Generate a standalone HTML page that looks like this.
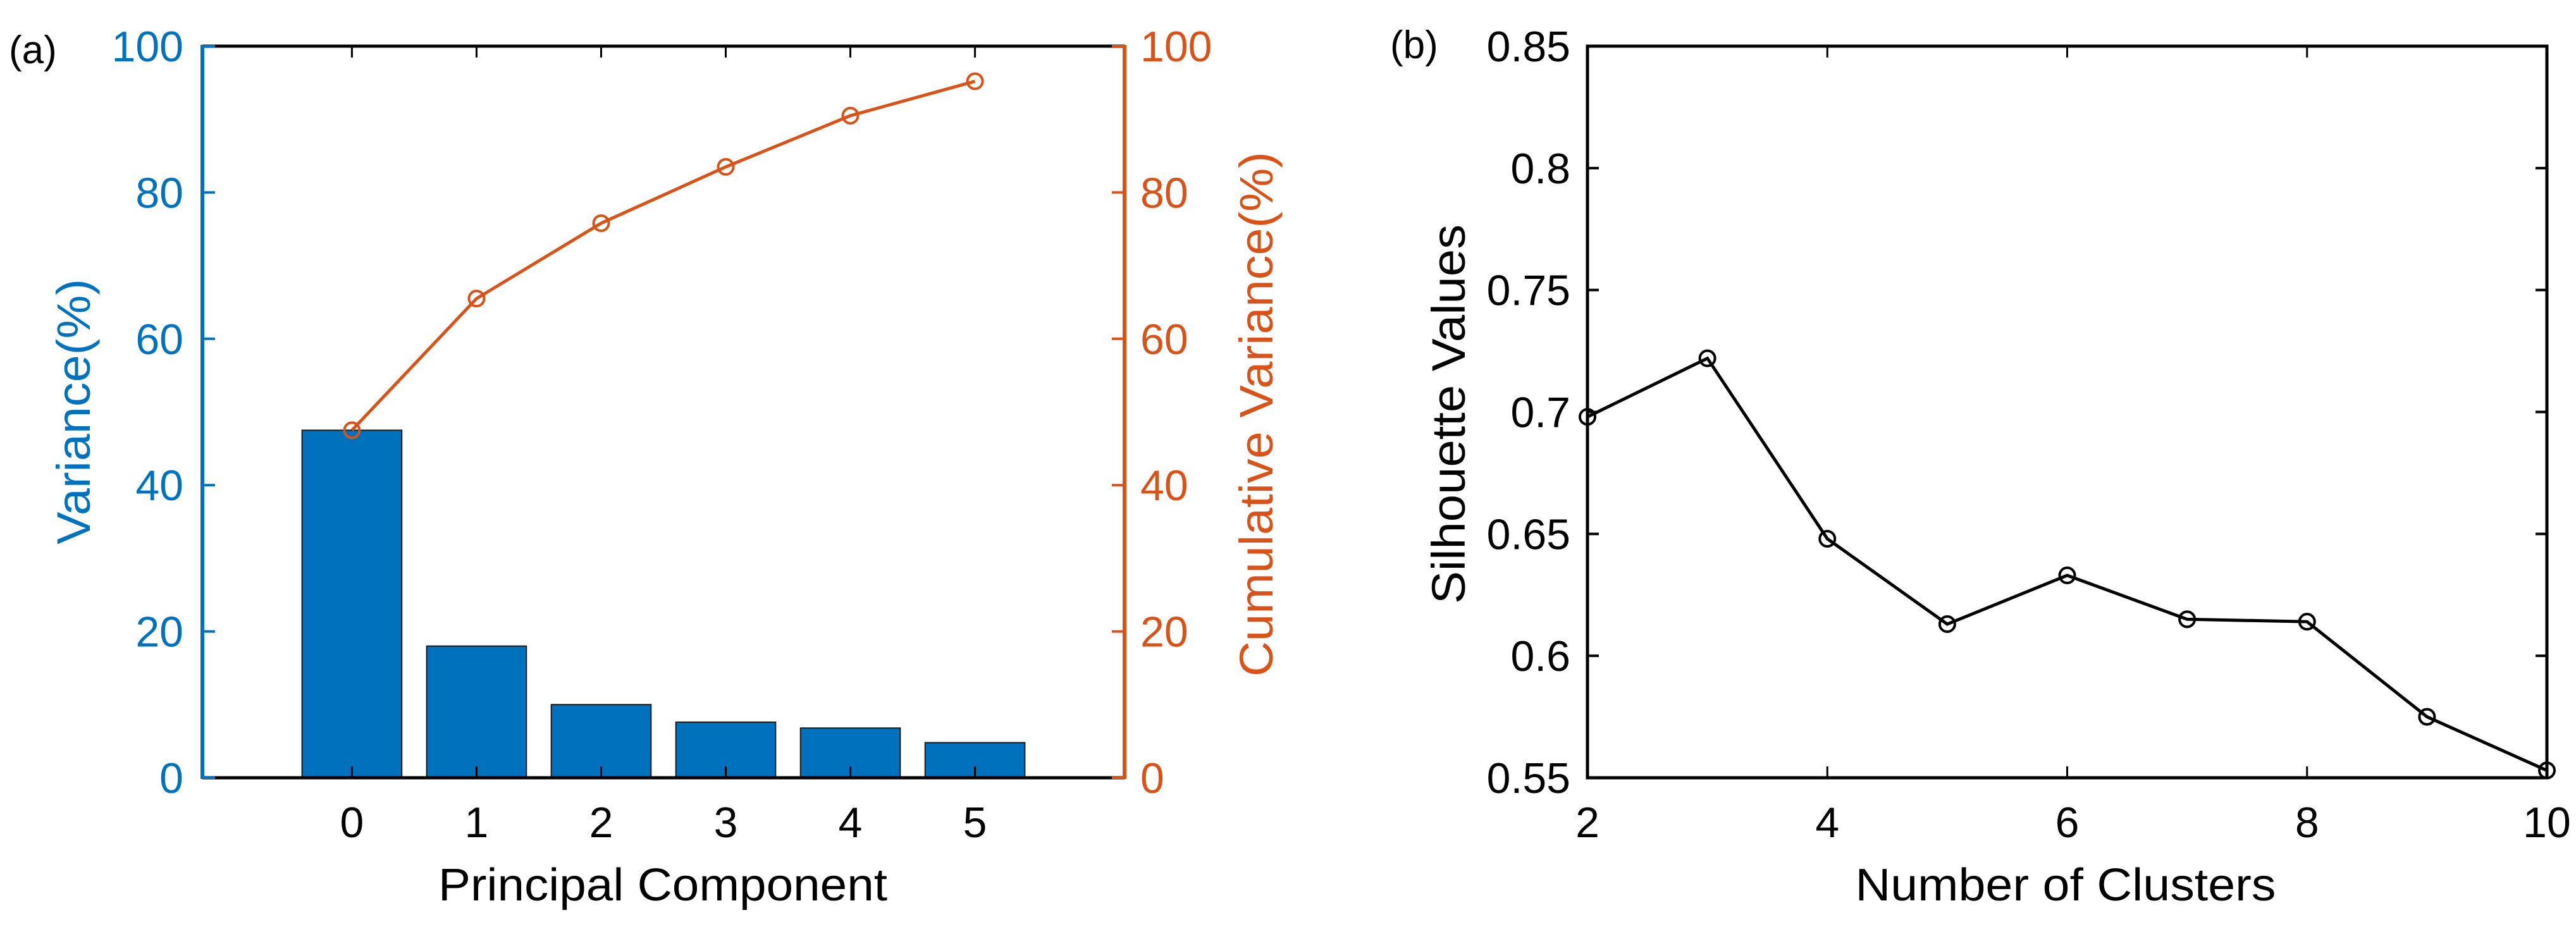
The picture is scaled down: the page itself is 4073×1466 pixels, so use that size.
<!DOCTYPE html>
<html><head><meta charset="utf-8"><style>
html,body{margin:0;padding:0;background:#fff;}
svg{display:block;font-family:"Liberation Sans",Arial,sans-serif;}
</style></head><body>
<svg id="fig" width="4073" height="1466" viewBox="0 0 4073 1466" xmlns="http://www.w3.org/2000/svg">
<rect width="4073" height="1466" fill="#fff"/>
<g id="pa"></g>
<g id="pb"></g>
</svg>
<script>
// Panel (a) data
const pcCategories = [0, 1, 2, 3, 4, 5];
const varianceValues = [47.5, 18.0, 10.0, 7.6, 6.8, 4.8];
const cumulativeValues = [47.5, 65.5, 75.8, 83.5, 90.5, 95.2];
const leftTicks = [0, 20, 40, 60, 80, 100];
const rightTicks = [0, 20, 40, 60, 80, 100];
// Panel (b) data
const clusterCounts = [2, 3, 4, 5, 6, 7, 8, 9, 10];
const silhouetteValues = [0.698, 0.722, 0.648, 0.613, 0.633, 0.615, 0.614, 0.575, 0.553];
const bXTicks = [2, 4, 6, 8, 10];
const bYTicks = [0.55, 0.6, 0.65, 0.7, 0.75, 0.8, 0.85];
const bYTickLabels = ["0.55", "0.6", "0.65", "0.7", "0.75", "0.8", "0.85"];

const NS = "http://www.w3.org/2000/svg";
function mk(parent, tag, attrs, text) {
  const e = document.createElementNS(NS, tag);
  for (const k in attrs) e.setAttribute(k, attrs[k]);
  if (text !== undefined) e.textContent = text;
  parent.appendChild(e);
  return e;
}
const BLUE = "#0072BD", ORANGE = "#D95319";
const FS = 68;

// ---------- Panel A ----------
const pa = document.getElementById("pa");
const aL = 320, aR = 1778, aT = 73, aB = 1230;
const axMin = -1.2, axMax = 6.2;
const ax = v => aL + (v - axMin) / (axMax - axMin) * (aR - aL);
const ay = v => aB - v / 100 * (aB - aT);

let t = mk(pa, "text", {x: 14, y: 100, "font-size": 62, fill: "#000"}, "(a)");



// bars
pcCategories.forEach((c, i) => {
  const r = mk(pa, "rect", {x: ax(c - 0.4), y: ay(varianceValues[i]), width: ax(c + 0.4) - ax(c - 0.4), height: ay(0) - ay(varianceValues[i]), fill: BLUE, stroke: "#1a1a1a", "stroke-width": 2});
  
  
});
// top & bottom box
let ln = mk(pa, "line", {x1: aL, y1: aT, x2: aR, y2: aT, stroke: "#000", "stroke-width": 5});


ln = mk(pa, "line", {x1: aL, y1: aB, x2: aR, y2: aB, stroke: "#000", "stroke-width": 5});


// x ticks
pcCategories.forEach(c => {
  const x = ax(c);
  const a1 = mk(pa, "line", {x1: x, y1: aB, x2: x, y2: aB - 18, stroke: "#000", "stroke-width": 3});
  
  
  const a2 = mk(pa, "line", {x1: x, y1: aT, x2: x, y2: aT + 18, stroke: "#000", "stroke-width": 3});
  
  
  const tl = mk(pa, "text", {x: x, y: 1324, "font-size": FS, "text-anchor": "middle", fill: "#000"}, String(c));
  
  
});
t = mk(pa, "text", {x: 1048, y: 1424, "font-size": 72, "text-anchor": "middle", fill: "#000", textLength: 710, lengthAdjust: "spacingAndGlyphs"}, "Principal Component");


// left axis
ln = mk(pa, "line", {x1: aL, y1: aT - 2, x2: aL, y2: aB + 2, stroke: BLUE, "stroke-width": 6});


leftTicks.forEach(v => {
  const y = ay(v);
  const tk = mk(pa, "line", {x1: aL, y1: y, x2: aL + 20, y2: y, stroke: BLUE, "stroke-width": 4});
  
  
  const tl = mk(pa, "text", {x: 290, y: y + 24, "font-size": FS, "text-anchor": "end", fill: BLUE}, String(v));
  
  
});
t = mk(pa, "text", {x: 0, y: 0, "font-size": 74, "text-anchor": "middle", fill: BLUE, transform: "translate(142,651) rotate(-90)", textLength: 420, lengthAdjust: "spacingAndGlyphs"}, "Variance(%)");


// right axis
ln = mk(pa, "line", {x1: aR, y1: aT - 2, x2: aR, y2: aB + 2, stroke: ORANGE, "stroke-width": 6});


rightTicks.forEach(v => {
  const y = ay(v);
  const tk = mk(pa, "line", {x1: aR, y1: y, x2: aR - 20, y2: y, stroke: ORANGE, "stroke-width": 4});
  
  
  const tl = mk(pa, "text", {x: 1803, y: y + 24, "font-size": FS, "text-anchor": "start", fill: ORANGE}, String(v));
  
  
});
t = mk(pa, "text", {x: 0, y: 0, "font-size": 74, "text-anchor": "middle", fill: ORANGE, transform: "translate(2012,655) rotate(-90)", textLength: 830, lengthAdjust: "spacingAndGlyphs"}, "Cumulative Variance(%)");


// cumulative line
const cumPts = pcCategories.map((c, i) => ax(c) + "," + ay(cumulativeValues[i])).join(" ");
ln = mk(pa, "polyline", {points: cumPts, fill: "none", stroke: ORANGE, "stroke-width": 5});


pcCategories.forEach((c, i) => {
  const m = mk(pa, "circle", {cx: ax(c), cy: ay(cumulativeValues[i]), r: 12, fill: "none", stroke: ORANGE, "stroke-width": 4});
  
  
});

// ---------- Panel B ----------
const pb = document.getElementById("pb");
const bL = 2510, bR = 4027, bT = 73, bB = 1230;
const bx = v => bL + (v - 2) / 8 * (bR - bL);
const by = v => bB - (v - 0.55) / 0.3 * (bB - bT);

t = mk(pb, "text", {x: 2198, y: 92, "font-size": 62, fill: "#000"}, "(b)");


const box = mk(pb, "rect", {x: bL, y: bT, width: bR - bL, height: bB - bT, fill: "none", stroke: "#000", "stroke-width": 5});


bXTicks.forEach(v => {
  const x = bx(v);
  const a1 = mk(pb, "line", {x1: x, y1: bB, x2: x, y2: bB - 18, stroke: "#000", "stroke-width": 3});
  
  
  const a2 = mk(pb, "line", {x1: x, y1: bT, x2: x, y2: bT + 18, stroke: "#000", "stroke-width": 3});
  
  
  const tl = mk(pb, "text", {x: x, y: 1324, "font-size": FS, "text-anchor": "middle", fill: "#000"}, String(v));
  
  
});
bYTicks.forEach((v, i) => {
  const y = by(v);
  const a1 = mk(pb, "line", {x1: bL, y1: y, x2: bL + 18, y2: y, stroke: "#000", "stroke-width": 4});
  
  
  const a2 = mk(pb, "line", {x1: bR, y1: y, x2: bR - 18, y2: y, stroke: "#000", "stroke-width": 4});
  
  
  const tl = mk(pb, "text", {x: 2483, y: y + 24, "font-size": FS, "text-anchor": "end", fill: "#000"}, bYTickLabels[i]);
  
  
});
t = mk(pb, "text", {x: 3266, y: 1424, "font-size": 72, "text-anchor": "middle", fill: "#000", textLength: 665, lengthAdjust: "spacingAndGlyphs"}, "Number of Clusters");


t = mk(pb, "text", {x: 0, y: 0, "font-size": 74, "text-anchor": "middle", fill: "#000", transform: "translate(2316,655) rotate(-90)", textLength: 600, lengthAdjust: "spacingAndGlyphs"}, "Silhouette Values");


const silPts = clusterCounts.map((c, i) => bx(c) + "," + by(silhouetteValues[i])).join(" ");
ln = mk(pb, "polyline", {points: silPts, fill: "none", stroke: "#000", "stroke-width": 5});


clusterCounts.forEach((c, i) => {
  const m = mk(pb, "circle", {cx: bx(c), cy: by(silhouetteValues[i]), r: 12, fill: "none", stroke: "#000", "stroke-width": 4});
  
  
});
</script>
</body></html>
